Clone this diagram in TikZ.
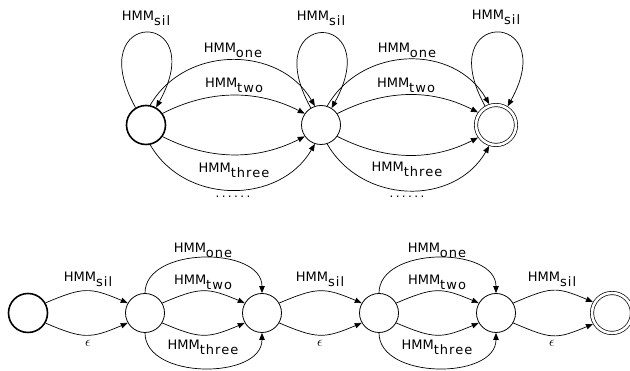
\documentclass[tikz,border=0pt]{standalone}
\usepackage{fontspec}
\setmainfont{DejaVu Sans}
\newfontfamily\subfont[LetterSpace=8]{DejaVu Sans}
\newfontfamily\dotfont[LetterSpace=20]{DejaVu Sans}
\usetikzlibrary{arrows.meta}
% label text: HMM with a lowered, tracked subscript word
\newcommand\hmmlab[1]{HMM\raisebox{-4.5pt}{\subfont #1}}

\begin{document}
\begin{tikzpicture}[x=1pt,y=1pt,
  every node/.style={font=\fontsize{13}{15}\selectfont},
  stnode/.style={circle,draw,line width=0.8pt,minimum size=39pt,inner sep=0pt},
  initstate/.style={stnode,line width=1.6pt},
  finalstate/.style={stnode,double,double distance=2.6pt,line width=0.7pt,minimum size=40pt,outer sep=2pt},
  link/.style={draw,line width=0.7pt,-{Triangle[length=7pt,width=5.5pt]}},
  lab/.style={anchor=base,inner sep=0pt},
  eps/.style={inner sep=0pt,font=\fontsize{14}{16}\selectfont},
  dots/.style={anchor=base,inner sep=0pt,font=\fontsize{12}{14}\dotfont},
]
\useasboundingbox (0,0) rectangle (630,371);

% ---------- upper automaton: loops on every state ----------
\node[initstate]  (A) at (146,246) {};
\node[stnode]     (B) at (321,246) {};
\node[finalstate] (C) at (496,246) {};

\draw[link] (A.121) to[out=119,in=61,distance=114pt] (A.60);
\draw[link] (B.121) to[out=119,in=61,distance=114pt] (B.58);
\draw[link] (C.120) to[out=119,in=61,distance=112pt] (C.58);
\node[lab] (la) at (146,350) {\hmmlab{sil}};
\node[lab] (lb) at (321,350) {\hmmlab{sil}};
\node[lab] (lc) at (496,351) {\hmmlab{sil}};

% word arcs between the first two states
\draw[link] (A.78)  to[out=60,in=120,distance=70pt]   (B.108);
\draw[link] (A.35)  to[out=27,in=153,distance=53pt]   (B.145);
\draw[link] (A.-35) to[out=-27,in=-153,distance=53pt] (B.-145);
\draw[link] (A.-78) to[out=-60,in=-120,distance=70pt] (B.-108);
\node[lab] (ab1) at (233,318) {\hmmlab{one}};
\node[lab] (ab2) at (234,283) {\hmmlab{two}};
\node[lab] (ab3) at (234,198) {\hmmlab{three}};
\node[dots] (ab4) at (233,173.5) {......};

% word arcs between the second and the final state
\draw[link] (B.72)  to[out=60,in=120,distance=70pt]   (C.108);
\draw[link] (B.35)  to[out=27,in=153,distance=53pt]   (C.145);
\draw[link] (B.-35) to[out=-27,in=-153,distance=53pt] (C.-145);
\draw[link] (B.-72) to[out=-60,in=-120,distance=70pt] (C.-108);
\node[lab] (bc1) at (407,318) {\hmmlab{one}};
\node[lab] (bc2) at (406,283) {\hmmlab{two}};
\node[lab] (bc3) at (407,199) {\hmmlab{three}};
\node[dots] (bc4) at (407,173.5) {......};

% ---------- lower automaton: a chain of states ----------
\node[initstate]  (s0) at (28,58)  {};
\node[stnode]     (s1) at (145,58) {};
\node[stnode]     (s2) at (262,58) {};
\node[stnode]     (s3) at (379,58) {};
\node[stnode]     (s4) at (496,58) {};
\node[finalstate] (s5) at (612,58) {};

% silence or nothing
\foreach \p/\q/\x in {s0/s1/88, s2/s3/320, s4/s5/552}{
  \draw[link] (\p.30)  to[out=23,in=157,distance=41pt]   (\q.150);
  \draw[link] (\p.-30) to[out=-23,in=-157,distance=41pt] (\q.-150);
  \node[lab] (sil-\p) at (\x,89) {\hmmlab{sil}};
  \node[eps] (eps-\p) at (\x,28) {$\epsilon$};
}

% one of the words
\foreach \p/\q/\x in {s1/s2/203, s3/s4/437}{
  \draw[link] (\p.90)  to[out=90,in=90,distance=47pt]    (\q.90);
  \draw[link] (\p.30)  to[out=23,in=157,distance=41pt]   (\q.150);
  \draw[link] (\p.-30) to[out=-23,in=-157,distance=41pt] (\q.-150);
  \draw[link] (\p.-90) to[out=-90,in=-90,distance=47pt]  (\q.-90);
  \node[lab] (one-\p)   at (\x,118) {\hmmlab{one}};
  \node[lab] (two-\p)   at (\x,86)  {\hmmlab{two}};
  \node[lab] (three-\p) at (\x,21)  {\hmmlab{three}};
}
\end{tikzpicture}
\end{document}
